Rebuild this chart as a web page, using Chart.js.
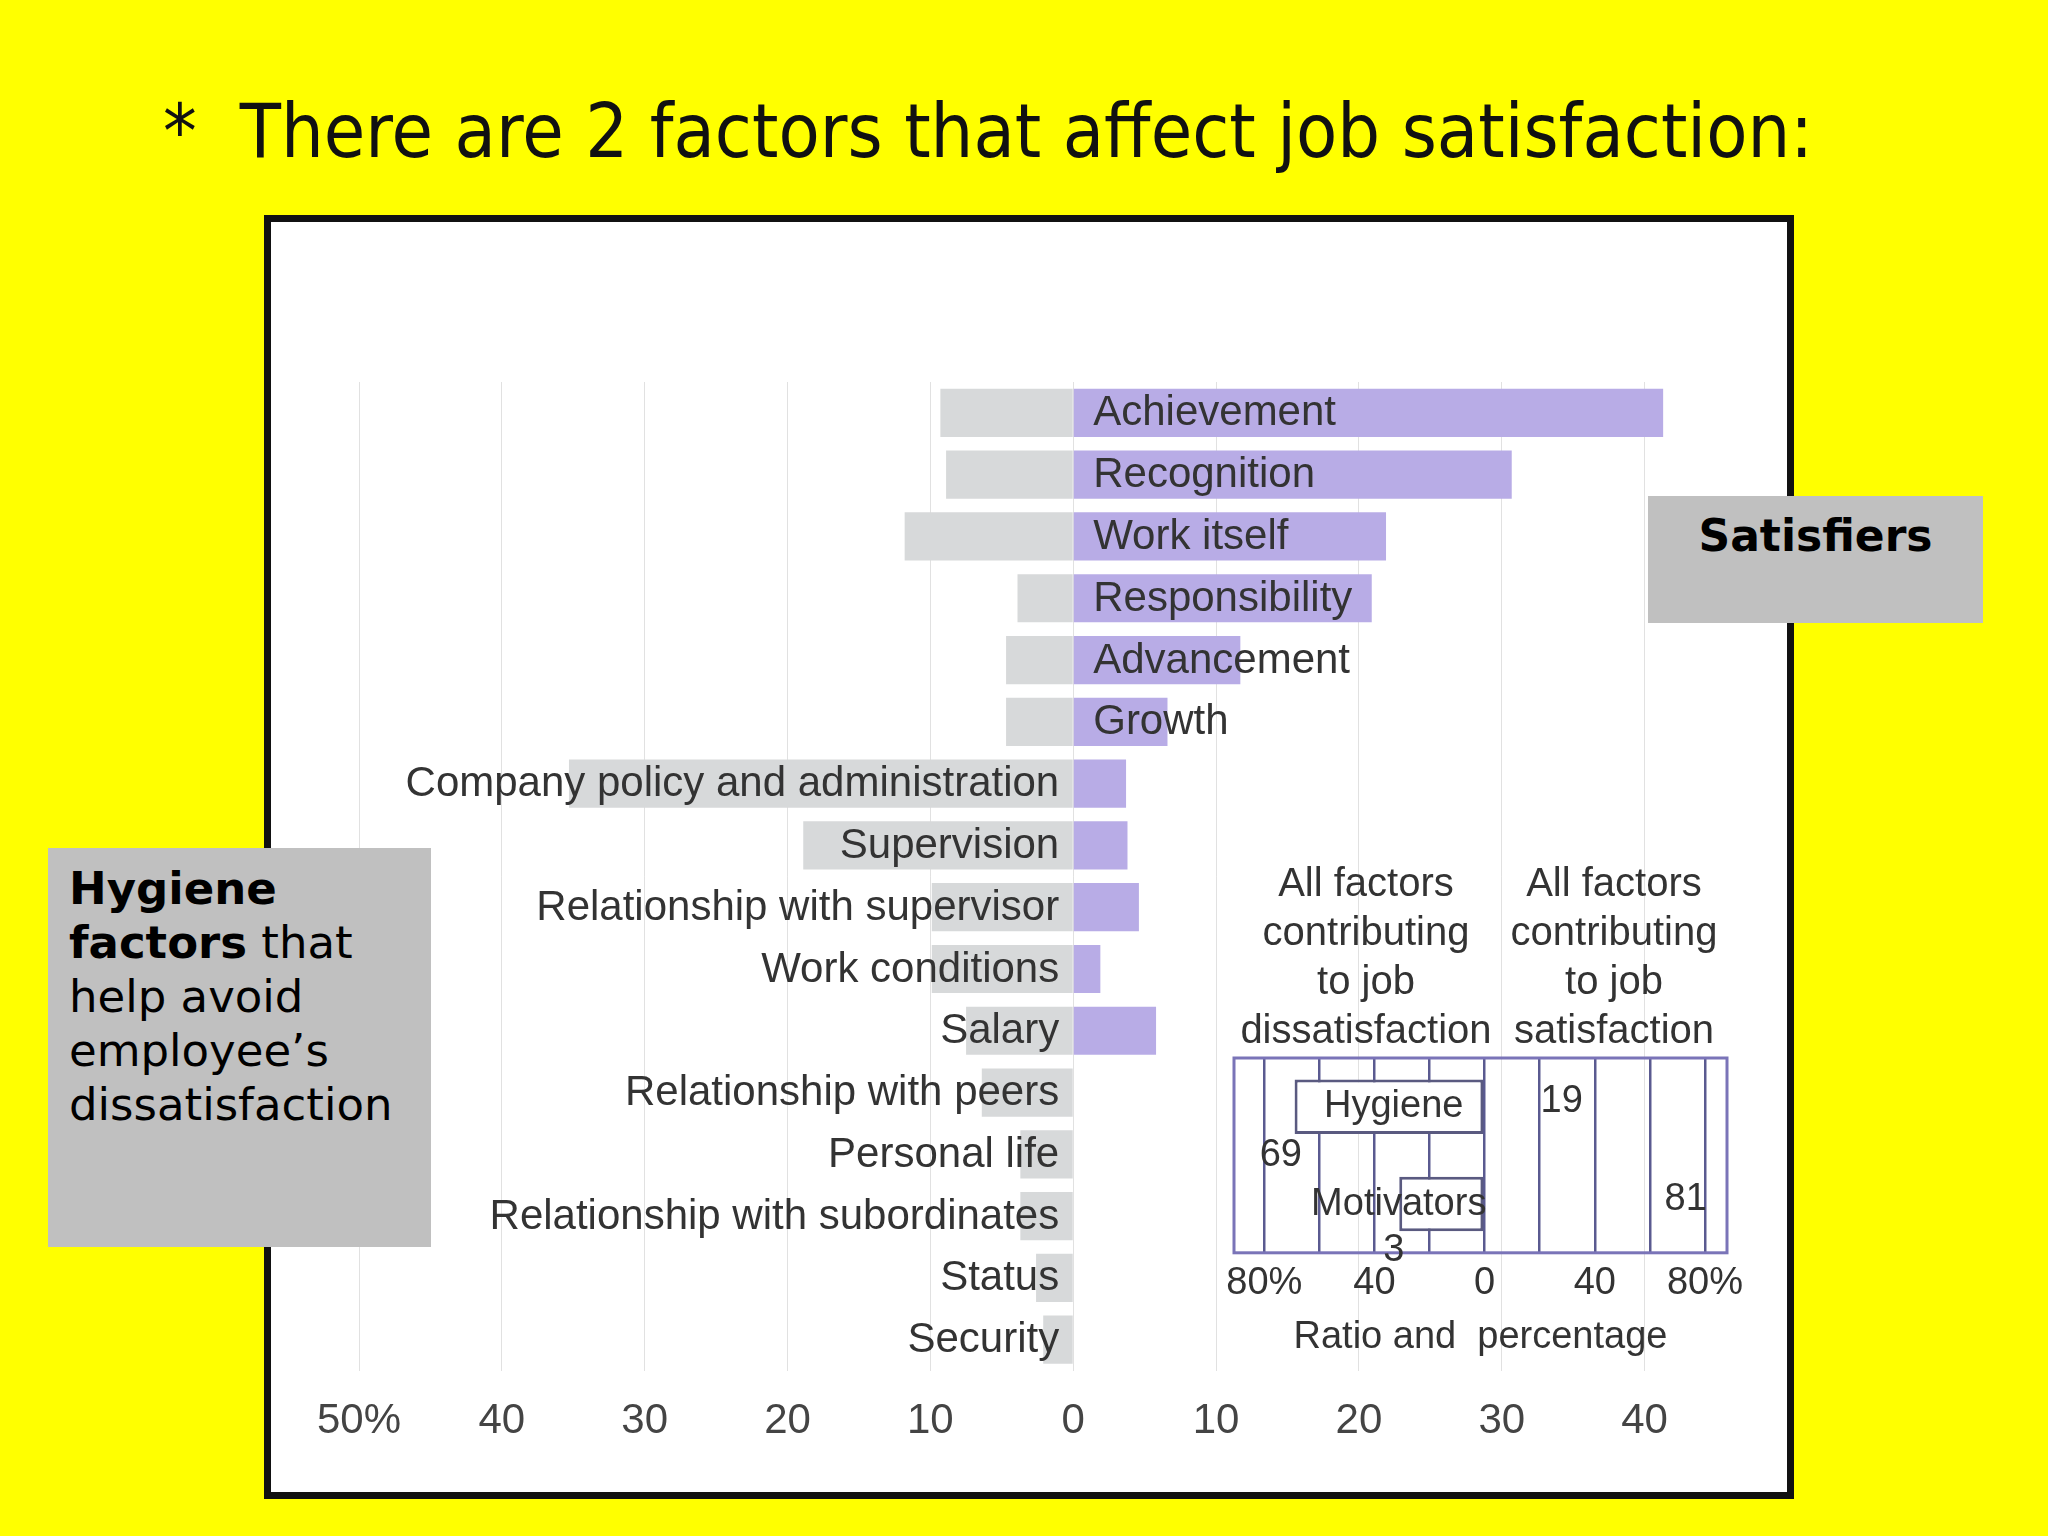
<!DOCTYPE html>
<html><head><meta charset="utf-8">
<script src="https://cdn.jsdelivr.net/npm/chart.js@4"></script>
<style>
html,body{margin:0;padding:0;width:2048px;height:1536px;background:#ffff00;overflow:hidden;position:relative;font-family:"DejaVu Sans",sans-serif}
#title{position:absolute;left:163px;top:88px;font-size:74px;color:#111;white-space:nowrap;transform-origin:0 0;font-family:"DejaVu Sans",sans-serif}
#frame{position:absolute;left:264px;top:215px;width:1530px;height:1284px;background:#fff;border:7px solid #111;box-sizing:border-box}
#main{position:absolute;left:268px;top:219px}
#inset{position:absolute;left:1180px;top:1040px}
.box{position:absolute;background:#c0c0c0;color:#000}
.t{position:absolute;font-family:"Liberation Sans Narrow","Liberation Sans",sans-serif;color:#333;font-size:40px;white-space:nowrap;text-align:center}
</style></head><body>
<div id="title">*&nbsp;&nbsp;There are 2 factors that affect job satisfaction:</div>
<div id="frame"></div>
<canvas id="main" width="1522" height="1276"></canvas>
<canvas id="inset" width="620" height="320"></canvas>
<div class="t" style="left:1236px;top:858px;width:260px;line-height:49px">All factors<br>contributing<br>to job<br>dissatisfaction</div>
<div class="t" style="left:1484px;top:858px;width:260px;line-height:49px">All factors<br>contributing<br>to job<br>satisfaction</div>
<div class="box" style="left:1648px;top:496px;width:335px;height:127px;font-weight:bold;font-size:44px;text-align:center;padding-top:14px;box-sizing:border-box">Satisfiers</div>
<div class="box" style="left:48px;top:848px;width:383px;height:399px;font-size:45px;line-height:54px;padding:14px 0 0 21px;box-sizing:border-box"><b>Hygiene<br>factors</b> that<br>help avoid<br>employee’s<br>dissatisfaction</div>
<script>
const categories=["Achievement","Recognition","Work itself","Responsibility","Advancement","Growth","Company policy and administration","Supervision","Relationship with supervisor","Work conditions","Salary","Relationship with peers","Personal life","Relationship with subordinates","Status","Security"];
const dissatisfaction=[-9.3,-8.9,-11.8,-3.9,-4.7,-4.7,-35.3,-18.9,-9.9,-9.9,-7.5,-6.4,-3.7,-3.7,-2.6,-2.1];
const satisfaction=[41.3,30.7,21.9,20.9,11.7,6.6,3.7,3.8,4.6,1.9,5.8,0,0,0,0,0];
const motivatorCount=6;
const xTicks=[-50,-40,-30,-20,-10,0,10,20,30,40];
const insetCats=["Hygiene","Motivators"];
const insetDissat=[-69,-31];
const insetTicks=[-80,-40,0,40,80];
const insetNumbers=[{t:"69",x:-74,y:0.5},{t:"19",x:28,y:-0.05},{t:"81",x:73,y:0.95},{t:"3",x:-33,y:1.48}];

const LF='"Liberation Sans Narrow","Liberation Sans",sans-serif';
// fit title width
const ti=document.getElementById('title');const w=ti.getBoundingClientRect().width;ti.style.transform='scaleX('+(1650/w)+')';

const labelPlugin={id:'lbl',afterDatasetsDraw(c){const ctx=c.ctx,x=c.scales.x,y=c.scales.y;ctx.save();ctx.font='42px '+LF;ctx.fillStyle='#333';ctx.textBaseline='middle';
categories.forEach((n,i)=>{const py=y.getPixelForValue(i)+1;if(i<motivatorCount){ctx.textAlign='left';ctx.fillText(n,x.getPixelForValue(0)+20,py);}else{ctx.textAlign='right';ctx.fillText(n,x.getPixelForValue(0)-14,py);}});ctx.restore();}};

new Chart(document.getElementById('main'),{type:'bar',
data:{labels:categories,datasets:[
{data:dissatisfaction,backgroundColor:'#d7d9da',barPercentage:0.78,categoryPercentage:1},
{data:satisfaction,backgroundColor:'#b8ace6',barPercentage:0.78,categoryPercentage:1}]},
options:{indexAxis:'y',responsive:false,animation:false,
layout:{padding:{left:91,right:74,top:163,bottom:22}},
plugins:{legend:{display:false},tooltip:{enabled:false}},
scales:{y:{stacked:true,display:false},
x:{stacked:true,min:-50,max:45,border:{display:false},
grid:{color:'rgba(170,170,170,0.35)',lineWidth:1,drawTicks:false,tickBorderDash:[2,6]},
afterBuildTicks(a){a.ticks=xTicks.map(v=>({value:v}));},
ticks:{padding:26,color:'#444',font:{size:42,family:LF},callback:v=>v===-50?'50%':String(Math.abs(v))}}}},
plugins:[labelPlugin]});

const insetPlugin={id:'ins',afterDatasetsDraw(c){const ctx=c.ctx,x=c.scales.x,y=c.scales.y,a=c.chartArea;ctx.save();
ctx.strokeStyle='#7a74b8';ctx.lineWidth=3;ctx.strokeRect(a.left,a.top,a.right-a.left,a.bottom-a.top);
ctx.font='38px '+LF;ctx.fillStyle='#333';ctx.textBaseline='middle';ctx.textAlign='center';
ctx.fillText('Hygiene',x.getPixelForValue(-33),y.getPixelForValue(0));
ctx.textAlign='left';ctx.fillText('Motivators',x.getPixelForValue(-63),y.getPixelForValue(1));ctx.textAlign='center';
insetNumbers.forEach(n=>ctx.fillText(n.t,x.getPixelForValue(n.x),y.getPixelForValue(n.y)));
ctx.restore();}};

new Chart(document.getElementById('inset'),{type:'bar',
data:{labels:insetCats,datasets:[{data:insetDissat,backgroundColor:'#ffffff',borderColor:'#5a5a80',borderWidth:3,borderSkipped:false,barPercentage:0.56,categoryPercentage:1}]},
options:{indexAxis:'y',responsive:false,animation:false,
layout:{padding:{left:54,right:73,top:18,bottom:0}},
plugins:{legend:{display:false},tooltip:{enabled:false}},
scales:{y:{display:false},
x:{min:-91,max:88,border:{display:false},
grid:{color:'#5a5a90',lineWidth:2.5,drawTicks:false},
afterBuildTicks(a){a.ticks=[-80,-60,-40,-20,0,20,40,60,80].map(v=>({value:v}));},
ticks:{padding:8,color:'#333',font:{size:38,family:LF},autoSkip:false,maxRotation:0,callback:v=>insetTicks.includes(v)?(Math.abs(v)===80?'80%':String(Math.abs(v))):''},
title:{display:true,text:'Ratio and  percentage',color:'#333',font:{size:38,family:LF},padding:{top:0,bottom:0}}}}},
plugins:[insetPlugin]});
</script>
</body></html>
